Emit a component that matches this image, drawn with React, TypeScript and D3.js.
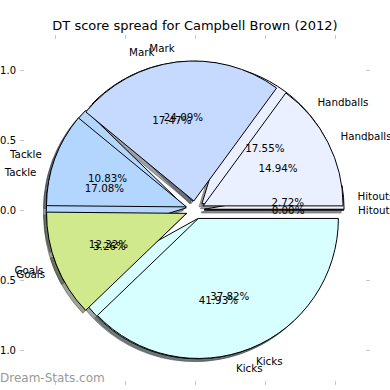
import React from 'react';
import * as d3 from 'd3';

// Data
const categories = ['Hitouts', 'Handballs', 'Mark', 'Tackle', 'Goals', 'Kicks'];
// pie drawn first (underneath)
const valuesBack = [2.72, 17.55, 17.47, 17.08, 3.26, 41.93];
// pie drawn on top
const valuesFront = [0.0, 14.94, 24.09, 10.83, 12.32, 37.82];
const sliceColors = ['#f4f4ff', '#eaf0ff', '#c6d9ff', '#b3d6ff', '#d0e98c', '#d8ffff'];
const tickValues = [-1, -0.5, 0, 0.5, 1];
const tickLabels = ['\u22121.0', '\u22120.5', '0.0', '0.5', '1.0'];
const titleText = 'DT score spread for Campbell Brown (2012)';
const watermark = 'Dream-Stats.com';

const W = 390;
const H = 390;
const AX = { left: 20, right: 370, top: 35, bottom: 385 };
const EXPLODE = 0.065;
const LABEL_DIST = 1.1;
const PCT_DIST = 0.6;
const SHADOW = 0.02;
const FONT = '"DejaVu Sans", sans-serif';

const x = d3.scaleLinear().domain([-1.25, 1.25]).range([AX.left, AX.right]);
const y = d3.scaleLinear().domain([-1.25, 1.25]).range([AX.bottom, AX.top]);
const R = x(1) - x(0);

const pieGen = d3
  .pie<number>()
  .sort(null)
  .value((d) => d)
  .startAngle(Math.PI / 2)
  .endAngle(Math.PI / 2 - 2 * Math.PI);

const arcGen = d3.arc<d3.PieArcDatum<number>>().innerRadius(0).outerRadius(R);

function shadowColor(c: string) {
  const rgb = d3.rgb(c);
  return `rgba(${Math.round(rgb.r * 0.3)},${Math.round(rgb.g * 0.3)},${Math.round(rgb.b * 0.3)},0.5)`;
}

function buildPie(values: number[]) {
  return pieGen(values).map((a, i) => {
    const mid = (a.startAngle + a.endAngle) / 2;
    const ux = Math.sin(mid);
    const uy = -Math.cos(mid);
    const cx = x(0) + EXPLODE * R * ux;
    const cy = y(0) + EXPLODE * R * uy;
    return {
      a,
      i,
      cx,
      cy,
      path: arcGen(a) || '',
      lx: cx + LABEL_DIST * R * ux,
      ly: cy + LABEL_DIST * R * uy,
      anchor: ux > 0 ? 'start' : 'end',
      px: cx + PCT_DIST * R * ux,
      py: cy + PCT_DIST * R * uy,
      pct: values[i].toFixed(2) + '%',
    };
  });
}

export default function App() {
  const pies = [buildPie(valuesBack), buildPie(valuesFront)];
  const sx = x(-SHADOW) - x(0);
  const sy = y(-SHADOW) - y(0);
  const tickColor = '#c8c8c8';
  return (
    <div style={{ position: 'absolute', left: 0, top: 0 }}>
      <svg width={W} height={H} style={{ display: 'block', background: '#fff' }}>
        <rect x={0} y={0} width={W} height={H} fill="#fff" />
        {/* shadows */}
        <g>
          {pies.map((p, pi) =>
            p.map((w) => (
              <path
                key={`s${pi}-${w.i}`}
                d={w.path}
                transform={`translate(${w.cx + sx},${w.cy + sy})`}
                fill={shadowColor(sliceColors[w.i])}
                stroke={shadowColor(sliceColors[w.i])}
                strokeWidth={1}
              />
            ))
          )}
        </g>
        {/* wedges */}
        {pies.map((p, pi) => (
          <g key={`w${pi}`}>
            {p.map((w) => (
              <path
                key={w.i}
                d={w.path}
                transform={`translate(${w.cx},${w.cy})`}
                fill={sliceColors[w.i]}
                stroke="#000"
                strokeWidth={1}
                strokeLinejoin="miter"
              />
            ))}
          </g>
        ))}
        {/* texts */}
        {pies.map((p, pi) => (
          <g key={`t${pi}`} fontFamily={FONT} fontSize={10.3} fill="#000">
            {p.map((w) => (
              <g key={w.i}>
                <text x={w.lx} y={w.ly} dy="0.36em" textAnchor={w.anchor}>
                  {categories[w.i]}
                </text>
                <text x={w.px} y={w.py} dy="0.36em" textAnchor="middle">
                  {w.pct}
                </text>
              </g>
            ))}
          </g>
        ))}
        {/* ticks */}
        <g stroke={tickColor} strokeWidth={1}>
          {tickValues.map((t, i) => (
            <g key={i}>
              <line x1={AX.left} x2={AX.left + 4} y1={Math.round(y(t)) + 0.5} y2={Math.round(y(t)) + 0.5} />
              <line x1={AX.right - 4} x2={AX.right} y1={Math.round(y(t)) + 0.5} y2={Math.round(y(t)) + 0.5} />
              <line y1={AX.top} y2={AX.top + 4} x1={Math.round(x(t)) + 0.5} x2={Math.round(x(t)) + 0.5} />
              <line y1={AX.bottom - 4} y2={AX.bottom} x1={Math.round(x(t)) + 0.5} x2={Math.round(x(t)) + 0.5} />
            </g>
          ))}
        </g>
        <g fontFamily={FONT} fontSize={10} fill="#000">
          {tickValues.map((t, i) => (
            <text key={`yl${i}`} x={AX.left - 4} y={y(t)} dy="0.36em" textAnchor="end">
              {tickLabels[i]}
            </text>
          ))}
          {tickValues.map((t, i) => (
            <text key={`xl${i}`} x={x(t)} y={AX.bottom + 13} textAnchor="middle">
              {tickLabels[i]}
            </text>
          ))}
        </g>
        <text x={(AX.left + AX.right) / 2} y={AX.top - 5} textAnchor="middle" fontFamily={FONT} fontSize={13} fill="#000">
          {titleText}
        </text>
        <text x={0} y={382} fontFamily={FONT} fontSize={12} fill="#9a9a9a">
          {watermark}
        </text>
      </svg>
    </div>
  );
}
